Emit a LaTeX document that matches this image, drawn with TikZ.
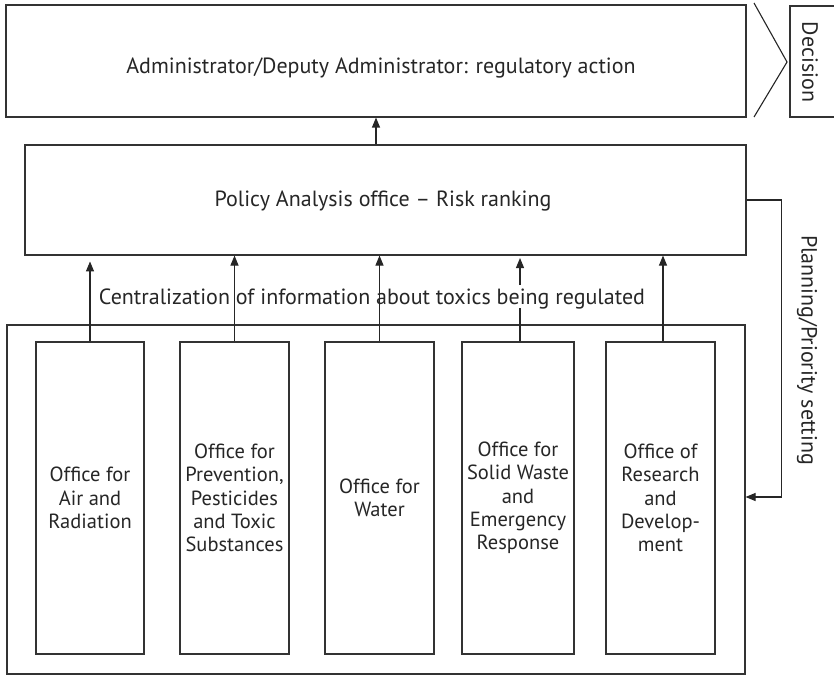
\documentclass[tikz,border=0pt]{standalone}
\usepackage{fontspec}
\setmainfont{PT Sans}
\usetikzlibrary{arrows.meta}
\begin{document}
\begin{tikzpicture}[x=1pt,y=-1pt,
  every node/.style={font=\fontsize{22}{23.3}\selectfont, text=black!85},
  frame/.style={draw=black!80, line width=1.1pt, inner sep=0pt},
  officebox/.style={frame, minimum height=312pt, align=center, font=\fontsize{20.5}{23.3}\selectfont},
  arr/.style={draw=black!85, line width=1.1pt, -{Triangle[length=10pt,width=8pt]}},
  ln/.style={draw=black!85, line width=1.1pt}]
\useasboundingbox (0,0) rectangle (834,676);
\clip (0,0) rectangle (834,676);
\node[frame, minimum width=740pt, minimum height=112pt] (admin) at (376,61) {};
\node[anchor=base] (admintxt) at (381,74) {Administrator/Deputy Administrator: regulatory action};
\path[ln, line join=miter] (754,3) -- (787,62) -- (754,117);
\node[frame, minimum width=70pt, minimum height=111pt] (decbox) at (825,61.5) {};
\node[rotate=-90] (dec) at (810,62) {Decision};
\node[frame, minimum width=721pt, minimum height=110pt] (policy) at (385.5,200) {};
\node[anchor=base] (policytxt) at (383,207) {Policy Analysis office -- Risk ranking};
\draw[arr] (admin.south |- policy.north) -- (admin.south);
\node[frame, minimum width=738pt, minimum height=349pt] (outer) at (376,499.5) {};
\node[officebox, minimum width=108pt] (o1) at (90,498) {Office for\\Air and\\Radiation};
\node[officebox, minimum width=109pt] (o2) at (234.5,498) {Office for\\Prevention,\\Pesticides\\and Toxic\\Substances};
\node[officebox, minimum width=109pt] (o3) at (379.5,498) {Office for\\Water};
\node[officebox, minimum width=112pt] (o4) at (518,498) {Office for\\Solid Waste\\and\\Emergency\\Response};
\node[officebox, minimum width=109pt] (o5) at (660.5,498) {Office of\\Research\\and\\Develop-\\ment};
\draw[arr] (o1.north) -- ++(0,-80);
\draw[arr] (o2.north) -- (o2.north |- policy.south);
\draw[arr] (o3.north) -- (o3.north |- policy.south);
\coordinate (g1) at (520,308);
\coordinate (g2) at (520,285);
\draw[ln] ([xshift=2pt]o4.north) -- (g1);
\draw[arr] (g2) -- (520,258);
\draw[arr] ([xshift=2.5pt]o5.north) -- ([xshift=2.5pt]o5.north |- policy.south);
\node[anchor=base] (central) at (372,304) {Centralization of information about toxics being regulated};
\draw[arr] (policy.east) -- ++(35,0) |- ([yshift=2.5pt]outer.east);
\node[rotate=-90] (plan) at (807,350) {Planning/Priority setting};
\end{tikzpicture}
\end{document}
